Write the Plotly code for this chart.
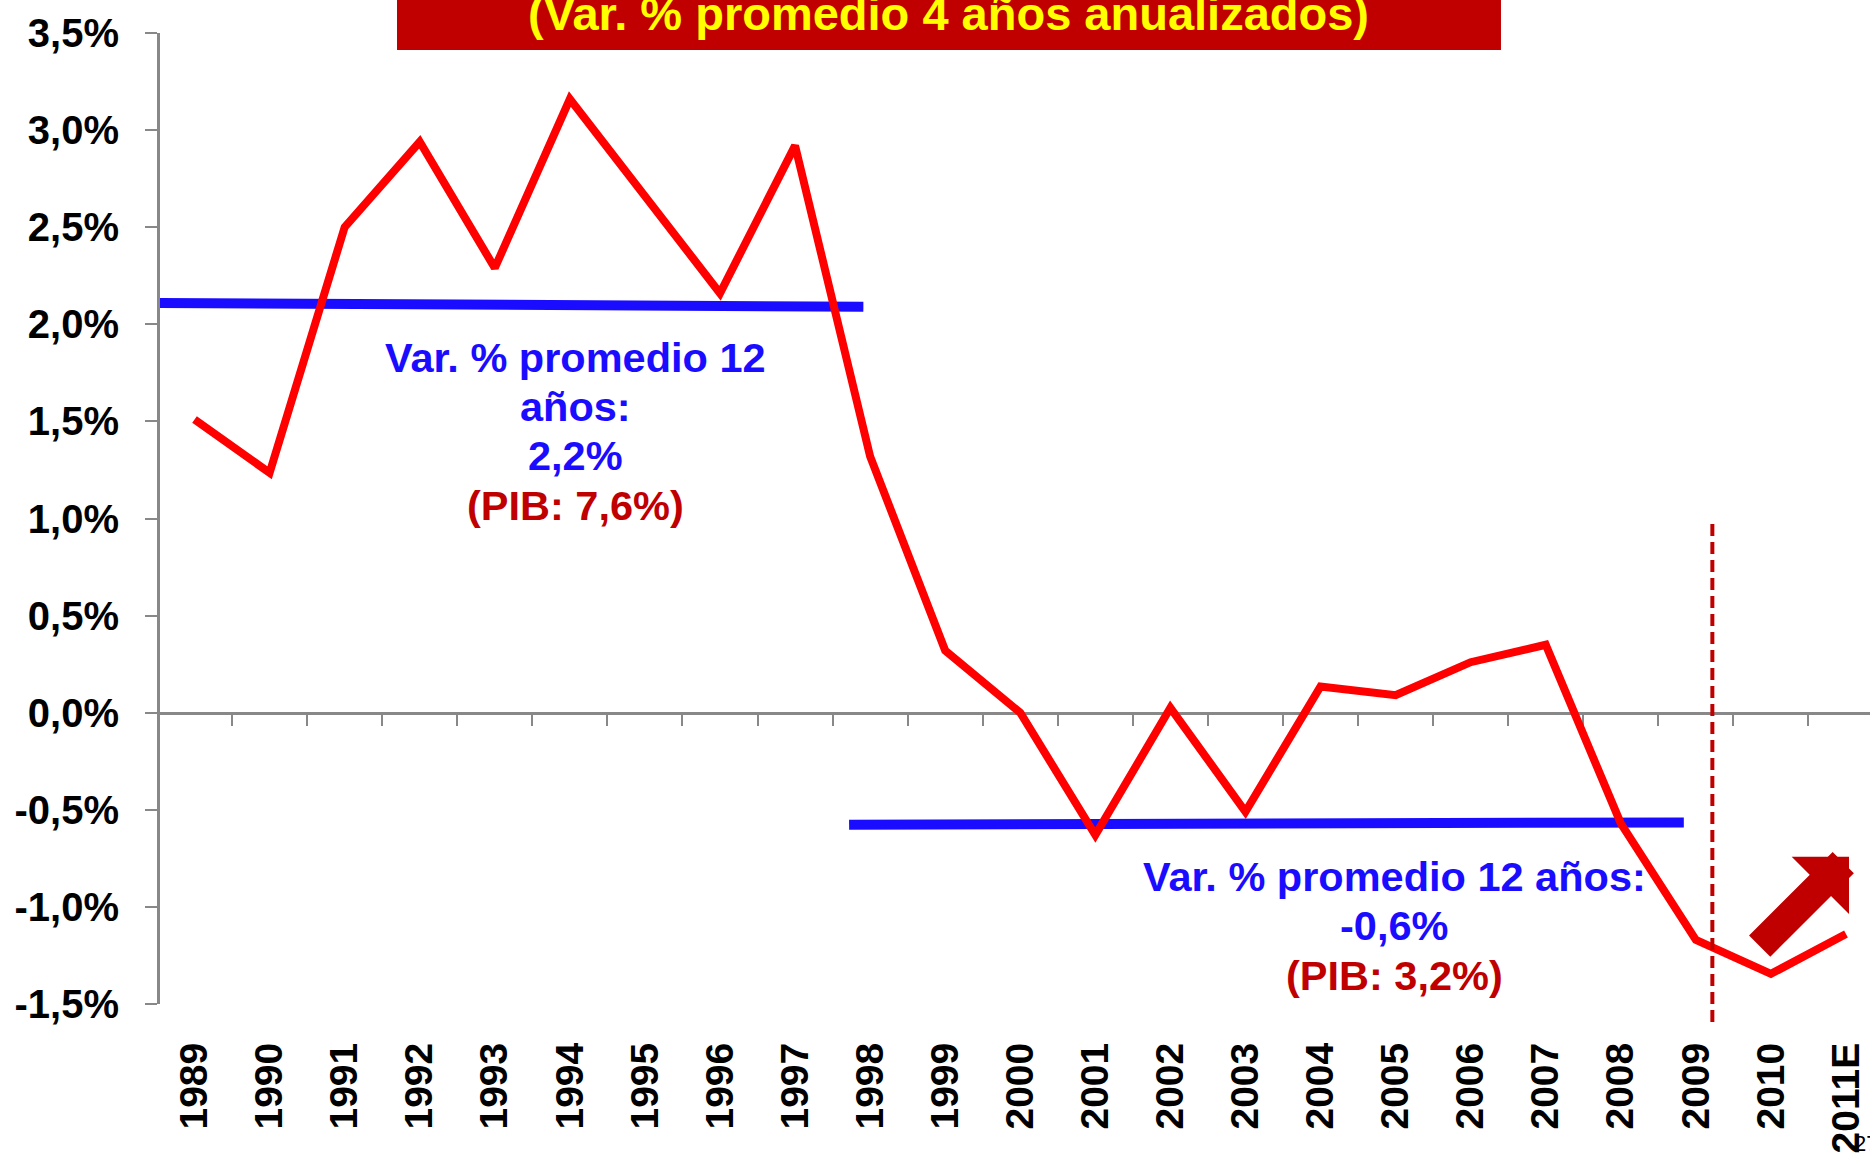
import plotly.graph_objects as go

# ---- data ----
years = ["1989", "1990", "1991", "1992", "1993", "1994", "1995", "1996", "1997",
         "1998", "1999", "2000", "2001", "2002", "2003", "2004", "2005", "2006",
         "2007", "2008", "2009", "2010", "2011E"]
var_4y = [1.51, 1.235, 2.50, 2.94, 2.29, 3.16, 2.66, 2.16, 2.92,
          1.32, 0.32, 0.0, -0.63, 0.025, -0.51, 0.135, 0.09, 0.26,
          0.35, -0.57, -1.17, -1.345, -1.14]

avg1_x = [-0.46, 8.91]
avg1_y = [2.11, 2.09]
avg2_x = [8.72, 19.84]
avg2_y = [-0.577, -0.565]

y_tickvals = [3.5, 3.0, 2.5, 2.0, 1.5, 1.0, 0.5, 0.0, -0.5, -1.0, -1.5]
y_ticktext = ["3,5%", "3,0%", "2,5%", "2,0%", "1,5%", "1,0%", "0,5%", "0,0%",
              "-0,5%", "-1,0%", "-1,5%"]

title_text = "(Var. % promedio 4 años anualizados)"
block1 = ["Var. % promedio 12", "años:", "2,2%", "(PIB: 7,6%)"]
block2 = ["Var. % promedio 12 años:", "-0,6%", "(PIB: 3,2%)"]
page_number = "27"

# ---- styles ----
RED = "#FF0000"
DARKRED = "#C00000"
BLUE = "#1A0DFF"
GRAY = "#888888"
FONT = "Liberation Sans, Arial, sans-serif"

xs = list(range(len(years)))
XR = [-0.46, 22.32]
YR = [-1.5, 3.5]

fig = go.Figure()

fig.add_trace(go.Scatter(x=avg1_x, y=avg1_y, mode="lines",
                         line=dict(color=BLUE, width=10), hoverinfo="skip", showlegend=False))
fig.add_trace(go.Scatter(x=avg2_x, y=avg2_y, mode="lines",
                         line=dict(color=BLUE, width=10), hoverinfo="skip", showlegend=False))
fig.add_trace(go.Scatter(x=xs, y=var_4y, mode="lines",
                         line=dict(color=RED, width=8), showlegend=False))
# anchor trace for the zero-line axis
fig.add_trace(go.Scatter(x=[0], y=[0], xaxis="x2", mode="none",
                         hoverinfo="skip", showlegend=False))

fig.update_layout(
    width=1870, height=1154,
    margin=dict(l=160, r=0, t=33, b=150),
    paper_bgcolor="white", plot_bgcolor="white",
    font=dict(family=FONT, color="black"),
    xaxis=dict(
        range=XR, tickmode="array", tickvals=xs, ticktext=years,
        tickangle=-90, tickfont=dict(size=39, weight="bold", color="black"),
        showline=False, showgrid=False, zeroline=False, ticks="",
        ticklabelstandoff=30,
    ),
    xaxis2=dict(
        range=XR, overlaying="x", anchor="free", position=0.3, side="bottom",
        tickmode="array", tickvals=[i + 0.5 for i in xs],
        ticks="outside", ticklen=11, tickwidth=2, tickcolor=GRAY,
        showline=True, linecolor=GRAY, linewidth=3,
        showticklabels=False, showgrid=False, zeroline=False, layer="below traces",
    ),
    yaxis=dict(
        range=YR, tickmode="array", tickvals=y_tickvals, ticktext=y_ticktext,
        tickfont=dict(size=40, weight="bold", color="black"),
        showline=True, linecolor=GRAY, linewidth=3,
        ticks="outside", ticklen=12, tickwidth=2, tickcolor=GRAY,
        showgrid=False, zeroline=False, ticklabelstandoff=18,
    ),
)

# title box
fig.add_shape(type="rect", xref="paper", yref="paper",
              x0=0.1386, x1=0.7842, y0=0.9825, y1=1.06,
              fillcolor=DARKRED, line=dict(width=0), layer="above")
fig.add_annotation(xref="paper", yref="paper", x=0.4614, y=1.0498,
                   xanchor="center", yanchor="top", showarrow=False,
                   text=title_text,
                   font=dict(size=47, weight="bold", color="#FFFF00"))

# dashed separator
xd = 20.22
xd_paper = (xd - XR[0]) / (XR[1] - XR[0])
fig.add_shape(type="line", xref="paper", yref="paper",
              x0=xd_paper, x1=xd_paper, y0=-0.0185, y1=0.497,
              line=dict(color=DARKRED, width=4, dash="12px,6px"))

# text blocks
b1_y = [1.828, 1.576, 1.324, 1.066]
for i, (t, yy) in enumerate(zip(block1, b1_y)):
    fig.add_annotation(x=5.07, y=yy, text=t, showarrow=False,
                       xanchor="center", yanchor="middle",
                       font=dict(size=41.5, weight="bold",
                                 color=DARKRED if i == 3 else BLUE))
b2_y = [-0.843, -1.095, -1.353]
for i, (t, yy) in enumerate(zip(block2, b2_y)):
    fig.add_annotation(x=15.98, y=yy, text=t, showarrow=False,
                       xanchor="center", yanchor="middle",
                       font=dict(size=41.5, weight="bold",
                                 color=DARKRED if i == 2 else BLUE))

# upward arrow
fig.add_annotation(x=22.04, y=-0.742, ax=20.83, ay=-1.21, axref="x", ayref="y",
                   xref="x", yref="y", text="", showarrow=True,
                   arrowhead=1, arrowsize=0.45, arrowwidth=30, arrowcolor=DARKRED)

# slide number (cut at the corner)
fig.add_annotation(xref="paper", yref="paper", x=0.9895, y=-0.1435,
                   xanchor="left", yanchor="middle", showarrow=False,
                   text=page_number, font=dict(size=22, color="black"))

fig.write_html("out.html",
               config={"displayModeBar": False},
               post_script="document.body.style.margin='0';document.body.style.overflow='hidden';")
